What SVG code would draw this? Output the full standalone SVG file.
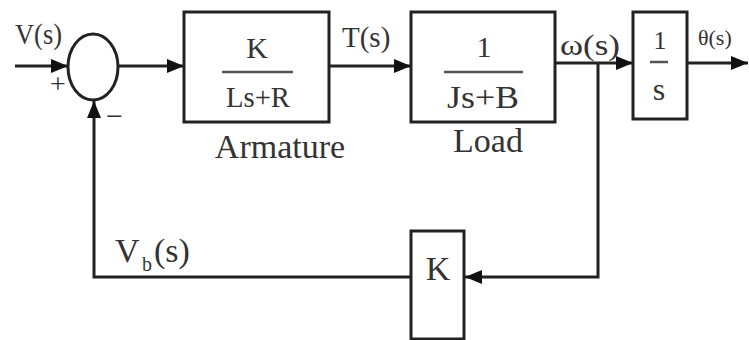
<svg xmlns="http://www.w3.org/2000/svg" width="749" height="340" viewBox="0 0 749 340">
<style>
.box{fill:#fff;stroke:#222;stroke-width:3}
.ln{fill:none;stroke:#222;stroke-width:3}
.arr{marker-end:url(#ah)}
text{font-family:"Liberation Serif","Times New Roman",serif;fill:#333}
.m{text-anchor:middle}
.frac{stroke:#555;stroke-width:2.5}
</style>
<defs>
<marker id="ah" viewBox="0 0 17 14" refX="17" refY="7" markerWidth="17" markerHeight="14" markerUnits="userSpaceOnUse" orient="auto">
<path d="M0,0 L17,7 L0,14 Z" fill="#111"/>
</marker>
</defs>
<rect width="749" height="340" fill="#fff"/>
<g id="connectors">
<path class="ln arr" d="M15,66 H68"/>
<path class="ln arr" d="M118,66 H184"/>
<path class="ln arr" d="M330,66 H411"/>
<path class="ln arr" d="M555,63 H633"/>
<path class="ln arr" d="M687,63 H748"/>
<path class="ln arr" d="M598,63 V277 H465"/>
<path class="ln arr" d="M411,277 H94 V101"/>
</g>
<g id="sum">
<ellipse cx="93" cy="67" rx="25" ry="33" class="ln"/>
<text x="58" y="93" font-size="28" class="m">+</text>
<text x="106" y="126" font-size="30">−</text>
</g>
<g id="input-label"><text x="15" y="44" font-size="29" textLength="47" lengthAdjust="spacingAndGlyphs">V(s)</text></g>
<g id="armature">
<rect x="184" y="12" width="145" height="110" class="box"/>
<text x="257" y="58" font-size="30" class="m">K</text>
<line x1="222" y1="72" x2="293" y2="72" class="frac"/>
<text x="258" y="107" font-size="30" class="m" textLength="64" lengthAdjust="spacingAndGlyphs">Ls+R</text>
<text x="280" y="158" font-size="34" class="m">Armature</text>
</g>
<g id="torque-label"><text x="342" y="47" font-size="29">T(s)</text></g>
<g id="load">
<rect x="411" y="12" width="144" height="110" class="box"/>
<text x="484" y="57" font-size="30" class="m">1</text>
<line x1="444" y1="72" x2="523" y2="72" class="frac"/>
<text x="483" y="108" font-size="32" class="m" textLength="72" lengthAdjust="spacingAndGlyphs">Js+B</text>
<text x="488" y="152" font-size="34" class="m">Load</text>
</g>
<g id="omega-label"><text x="560" y="55" font-size="30" textLength="60" lengthAdjust="spacingAndGlyphs">ω(s)</text></g>
<g id="integrator">
<rect x="633" y="12" width="54" height="107" class="box"/>
<text x="660" y="49" font-size="26" class="m">1</text>
<line x1="650" y1="62" x2="668" y2="62" class="frac"/>
<text x="659" y="100" font-size="32" class="m">s</text>
</g>
<g id="theta-label"><text x="698" y="45" font-size="22">θ(s)</text></g>
<g id="feedback">
<rect x="411" y="231" width="53" height="108" class="box"/>
<text x="438" y="280" font-size="34" class="m">K</text>
</g>
<g id="vb-label">
<text x="115" y="262" font-size="34">V</text>
<text x="142" y="271" font-size="20">b</text>
<text x="154" y="262" font-size="34">(s)</text>
</g>
</svg>
